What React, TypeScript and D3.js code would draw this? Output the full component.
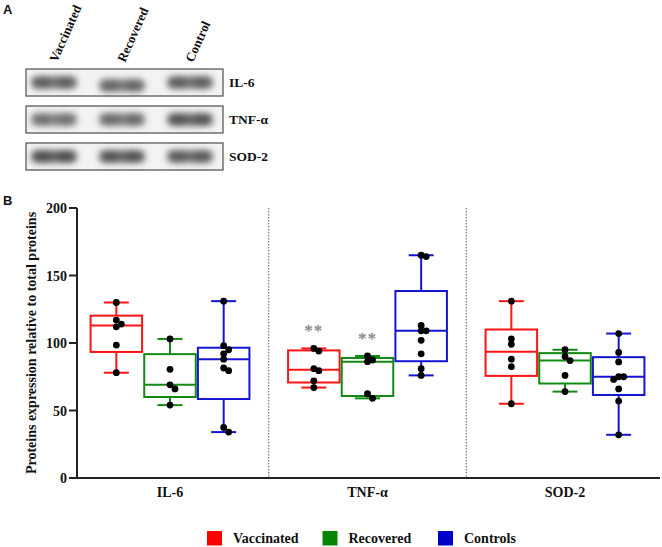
import React from 'react';
import * as d3 from 'd3';

// ---- data ----
const groups = ['IL-6', 'TNF-α', 'SOD-2'];
const series = ['Vaccinated', 'Recovered', 'Controls'];
const seriesColors = ['#ff1414', '#138a13', '#1414d2'];
const legendColors = ['#ff0000', '#078507', '#0000c8'];

const il6Vaccinated = [130, 117, 114, 112, 98.5, 78];
const il6Recovered = [103, 80.5, 69, 66, 54];
const il6Controls = [131, 98, 95, 92, 88, 81.5, 79.5, 37.5, 34];
const tnfVaccinated = [96, 94, 81, 79.5, 72, 67];
const tnfRecovered = [90.4, 87.4, 86.2, 62.5, 59];
const tnfControls = [165, 164, 113, 109, 109, 102, 92, 81, 76];
const sodVaccinated = [131, 103, 99, 88, 82.5, 55];
const sodRecovered = [95, 90, 87, 76, 64];
const sodControls = [107, 93, 86, 75, 75, 73, 66, 57, 32];

const values = [
  [il6Vaccinated, il6Recovered, il6Controls],
  [tnfVaccinated, tnfRecovered, tnfControls],
  [sodVaccinated, sodRecovered, sodControls],
];

const yTicks = [0, 50, 100, 150, 200];
const significance = [
  { group: 'TNF-α', series: 'Vaccinated', label: '**' },
  { group: 'TNF-α', series: 'Recovered', label: '**' },
];

// western blot (panel A)
const blotLanes = ['Vaccinated', 'Recovered', 'Control'];
const blotProteins = ['IL-6', 'TNF-α', 'SOD-2'];
const blotIntensity = [
  [0.85, 0.8, 0.85],
  [0.75, 0.78, 0.92],
  [0.95, 0.92, 0.88],
];

const W = 662;
const H = 547;
const serif = '"Liberation Serif", "Times New Roman", serif';
const ink = '#111';

// quartiles the GraphPad way: position p*(n+1)
function quart(sorted: number[], p: number) {
  const n = sorted.length;
  let pos = p * (n + 1);
  pos = Math.max(1, Math.min(n, pos));
  const lo = Math.floor(pos);
  const frac = pos - lo;
  if (lo >= n) return sorted[n - 1];
  return sorted[lo - 1] + frac * (sorted[lo] - sorted[lo - 1]);
}

// simple dodge so overlapping dots spread sideways
function dodge(vals: number[], ys: (v: number) => number) {
  const placed: { y: number; dx: number }[] = [];
  const cands = [0, 5, -5, 10, -10];
  return vals.map(v => {
    const py = ys(v);
    let dx = 0;
    for (const c of cands) {
      if (placed.every(p => Math.hypot(p.dx - c, p.y - py) >= 5)) { dx = c; break; }
    }
    placed.push({ y: py, dx });
    return { v, y: py, dx };
  });
}

export default function App() {
  // panel B scales
  const y = d3.scaleLinear().domain([0, 200]).range([478, 208]);
  const xGroup = d3.scaleBand().domain(groups).range([71.25, 663.75]);
  const xSeries = d3.scaleBand().domain(series).range([-80.5, 80.5]);
  const axisX = 77;
  const axisRight = 660;
  const boxW = xSeries.bandwidth() * 0.96;
  const capW = 25;

  // panel A scales
  const laneX = d3.scaleBand().domain(blotLanes).range([20, 224]);
  const rowY = d3.scaleBand().domain(blotProteins).range([69, 170]).paddingInner(0.27);

  const legendX = d3.scalePoint().domain(series).range([207, 438]);

  return (
    <svg width={W} height={H} style={{ position: 'absolute', left: 0, top: 0, background: '#fff' }}>
      <defs>
        <filter id="blur" x="-50%" y="-80%" width="200%" height="260%">
          <feGaussianBlur stdDeviation="3.2" />
        </filter>
      </defs>
      <rect width={W} height={H} fill="#fff" />

      {/* Panel A */}
      <text x={3} y={14} fontFamily="Arial, 'Liberation Sans', sans-serif" fontWeight="bold" fontSize={13} fill={ink}>A</text>
      {blotLanes.map(l => (
        <text key={l} transform={`translate(${(laneX(l) as number) + laneX.bandwidth() / 2 + 3},63) rotate(-66)`}
          fontFamily={serif} fontWeight="bold" fontSize={13} fill={ink}>{l}</text>
      ))}
      {blotProteins.map((p, ri) => {
        const ry = rowY(p) as number;
        const rh = rowY.bandwidth();
        return (
          <g key={p}>
            <rect x={26} y={ry} width={197} height={rh} fill="#f3f3f3" stroke="#5a5a5a" strokeWidth={1.3} />
            <g filter="url(#blur)">
              {blotLanes.map((l, li) => {
                const cx = (laneX(l) as number) + laneX.bandwidth() / 2;
                const cy = ry + rh / 2 + (ri === 0 && li === 1 ? 3 : 0);
                const op = blotIntensity[ri][li];
                return (
                  <g key={l} opacity={op}>
                    <rect x={cx - 23} y={cy - 6.5} width={46} height={13} rx={5} fill="#6a6a6a" />
                    <ellipse cx={cx - 11} cy={cy} rx={10} ry={6.5} fill="#474747" />
                    <ellipse cx={cx + 11} cy={cy} rx={10} ry={6.5} fill="#474747" />
                  </g>
                );
              })}
            </g>
            <text x={229} y={ry + rh / 2 + 4.5} fontFamily={serif} fontWeight="bold" fontSize={13.5} fill={ink}>{p}</text>
          </g>
        );
      })}

      {/* Panel B */}
      <text x={3} y={205} fontFamily="Arial, 'Liberation Sans', sans-serif" fontWeight="bold" fontSize={13} fill={ink}>B</text>
      <text transform={`translate(36,${(y(0) + y(200)) / 2}) rotate(-90)`} textAnchor="middle"
        fontFamily={serif} fontWeight="bold" fontSize={14} fill={ink}>Proteins expression relative to total proteins</text>

      {/* dotted separators */}
      {groups.slice(1).map(g => (
        <line key={g} x1={xGroup(g)} x2={xGroup(g)} y1={y(200)} y2={y(0)} stroke="#777" strokeWidth={1.2} strokeDasharray="1.5 1.5" />
      ))}

      {/* y axis */}
      <line x1={axisX} x2={axisX} y1={y(0) + 1} y2={y(200)} stroke="#222" strokeWidth={2} />
      {yTicks.map(t => (
        <g key={t}>
          <line x1={axisX - 8} x2={axisX} y1={y(t)} y2={y(t)} stroke="#222" strokeWidth={2} />
          <text x={axisX - 10} y={y(t) + 5} textAnchor="end" fontFamily={serif} fontWeight="bold" fontSize={14} fill={ink}>{t}</text>
        </g>
      ))}
      {/* x axis */}
      <line x1={axisX - 1} x2={axisRight} y1={y(0)} y2={y(0)} stroke="#222" strokeWidth={2} />
      {groups.map(g => (
        <text key={g} x={(xGroup(g) as number) + xGroup.bandwidth() / 2} y={497} textAnchor="middle"
          fontFamily={serif} fontWeight="bold" fontSize={14} fill={ink}>{g}</text>
      ))}

      {/* boxes */}
      {groups.map((g, gi) => (
        <g key={g}>
          {series.map((s, si) => {
            const vals = values[gi][si];
            const sorted = [...vals].sort((a, b) => a - b);
            const mn = sorted[0];
            const mx = sorted[sorted.length - 1];
            const q1 = quart(sorted, 0.25);
            const med = d3.median(sorted) as number;
            const q3 = quart(sorted, 0.75);
            const cx = (xGroup(g) as number) + xGroup.bandwidth() / 2 + (xSeries(s) as number) + xSeries.bandwidth() / 2;
            const col = seriesColors[si];
            const dots = dodge([...vals].sort((a, b) => b - a), y);
            return (
              <g key={s}>
                <line x1={cx} x2={cx} y1={y(mx)} y2={y(q3)} stroke={col} strokeWidth={2} />
                <line x1={cx} x2={cx} y1={y(q1)} y2={y(mn)} stroke={col} strokeWidth={2} />
                <line x1={cx - capW / 2} x2={cx + capW / 2} y1={y(mx)} y2={y(mx)} stroke={col} strokeWidth={2} />
                <line x1={cx - capW / 2} x2={cx + capW / 2} y1={y(mn)} y2={y(mn)} stroke={col} strokeWidth={2} />
                <rect x={cx - boxW / 2} y={y(q3)} width={boxW} height={y(q1) - y(q3)} fill="none" stroke={col} strokeWidth={2} />
                <line x1={cx - boxW / 2} x2={cx + boxW / 2} y1={y(med)} y2={y(med)} stroke={col} strokeWidth={2} />
                {dots.map((d, i) => (
                  <circle key={i} cx={cx + d.dx} cy={d.y} r={3.4} fill="#000" />
                ))}
              </g>
            );
          })}
        </g>
      ))}

      {/* significance stars */}
      {significance.map(sg => {
        const gi = groups.indexOf(sg.group);
        const si = series.indexOf(sg.series);
        const mx = d3.max(values[gi][si]) as number;
        const cx = (xGroup(sg.group) as number) + xGroup.bandwidth() / 2 + (xSeries(sg.series) as number) + xSeries.bandwidth() / 2;
        return (
          <text key={sg.group + sg.series} x={cx} y={y(mx + 15) + 8} textAnchor="middle" fontFamily={serif}
            fontWeight="bold" fontSize={17} letterSpacing={1} fill="#8a8a8a">{sg.label}</text>
        );
      })}

      {/* legend */}
      {series.map((s, i) => (
        <g key={s}>
          <rect x={legendX(s)} y={531} width={15} height={14.5} fill={legendColors[i]} />
          <text x={(legendX(s) as number) + 26} y={543} fontFamily={serif} fontWeight="bold" fontSize={14} fill={ink}>{s}</text>
        </g>
      ))}
    </svg>
  );
}
